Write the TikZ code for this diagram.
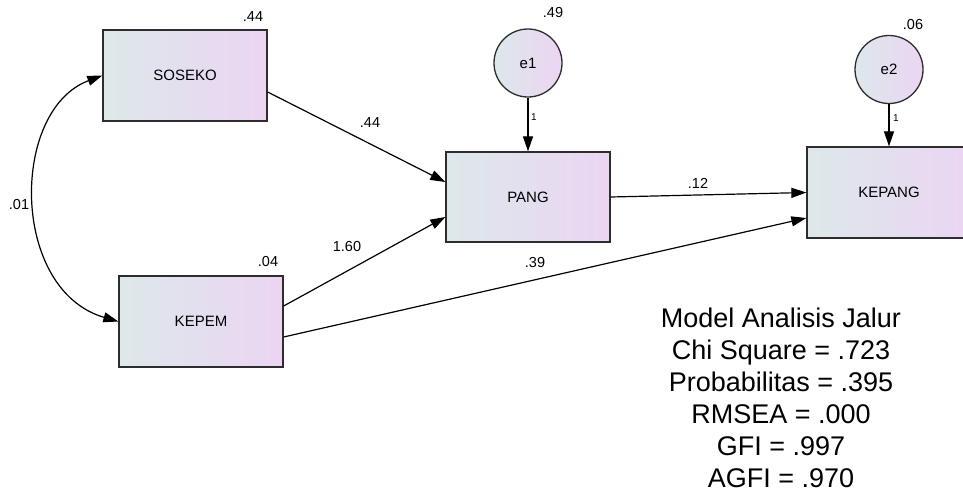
\documentclass[tikz,border=0pt]{standalone}
\usepackage{fontspec}
\setmainfont{Liberation Sans}
\usetikzlibrary{arrows.meta,calc}
\definecolor{gleft}{RGB}{221,232,234}
\definecolor{gright}{RGB}{235,213,243}
\definecolor{edge}{RGB}{45,45,45}
\tikzset{
  varbox/.style={draw=edge,line width=1.3pt,left color=gleft,right color=gright,
    minimum width=164pt,minimum height=91pt,inner sep=0pt,font=\fontsize{15}{17}\selectfont},
  errcirc/.style={circle,draw=edge,line width=1.3pt,left color=gleft,right color=gright,
    minimum size=68pt,inner sep=0pt,font=\fontsize{15}{17}\selectfont},
  lab/.style={inner sep=0pt,font=\fontsize{14.5}{16}\selectfont},
  smalllab/.style={inner sep=0pt,font=\fontsize{10}{12}\selectfont},
  conn/.style={line width=1.2pt,-{Triangle[length=15pt,width=10pt]}},
  dconn/.style={line width=1.2pt,{Triangle[length=15pt,width=10pt]}-{Triangle[length=15pt,width=10pt]}}
}
\begin{document}
\begin{tikzpicture}[x=1pt,y=-1pt]
\useasboundingbox (0,0) rectangle (963,493);
\fill[white] (0,0) rectangle (963,493);
\node[varbox] (SOSEKO) at (185,75.5) {SOSEKO};
\node[varbox] (KEPEM) at (201,321.5) {KEPEM};
\node[varbox,minimum height=90pt] (PANG) at (528,197) {PANG};
\begin{scope}
\clip (0,0) rectangle (963,493);
\node[varbox] (KEPANG) at (889,192.5) {KEPANG};
\end{scope}
\node[errcirc] (e1) at (528,63) {e1};
\node[errcirc] (e2) at (889,69.5) {e2};
% variance labels
\node[lab] (vSOSEKO) at (253,17) {.44};
\node[lab] (vKEPEM) at (268,262) {.04};
\node[lab] (ve1) at (553,13) {.49};
\node[lab] (ve2) at (913,25) {.06};
% connectors
\draw[dconn] (SOSEKO.west) .. controls (10,110) and (10,290) .. (KEPEM.west);
\node[lab] (cov) at (19,205) {.01};
\draw[conn] (e1.south) -- (PANG.north);
\node[smalllab] (w1) at (534,117) {1};
\draw[conn] (e2.south) -- (KEPANG.north);
\node[smalllab] (w2) at (896,118) {1};
\draw[conn] ($(SOSEKO.east)+(0,16.5)$) -- ($(PANG.west)+(0,-15)$);
\node[lab] (p1) at (370,123) {.44};
\draw[conn] ($(KEPEM.east)+(0,-15.5)$) -- ($(PANG.west)+(0,20)$);
\node[lab] (p2) at (347,247) {1.60};
\draw[conn] (PANG.east) -- (KEPANG.west);
\node[lab] (p3) at (698,183) {.12};
\draw[conn] ($(KEPEM.east)+(0,15.5)$) -- ($(KEPANG.west)+(0,25.5)$);
\node[lab] (p4) at (535,263) {.39};
% fit statistics
\node[anchor=north,align=center,inner sep=0pt,font=\fontsize{27}{32}\selectfont] (fit) at (781,308)
 {Model Analisis Jalur\\Chi Square = .723\\Probabilitas = .395\\RMSEA = .000\\GFI = .997\\AGFI = .970};
\end{tikzpicture}
\end{document}
